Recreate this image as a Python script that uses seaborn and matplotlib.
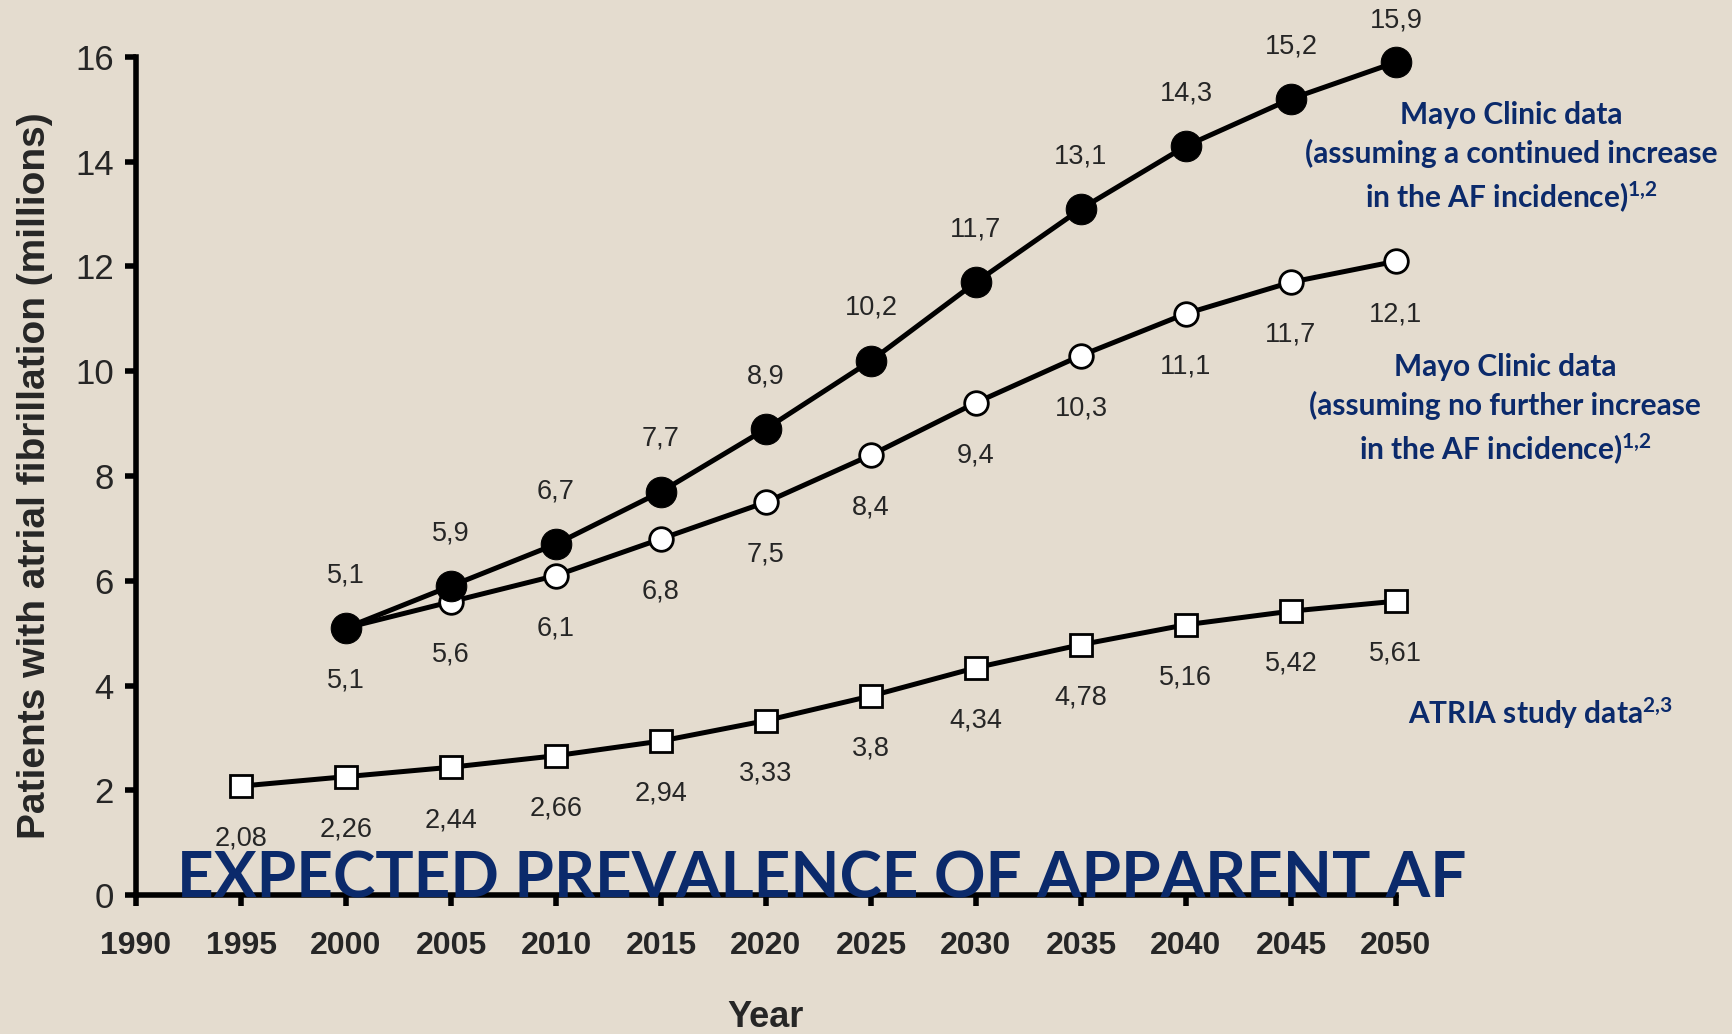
import matplotlib
matplotlib.use('Agg')
import matplotlib.pyplot as plt
import seaborn as sns

# data
years_atria = [1995, 2000, 2005, 2010, 2015, 2020, 2025, 2030, 2035, 2040, 2045, 2050]
atria = [2.08, 2.26, 2.44, 2.66, 2.94, 3.33, 3.8, 4.34, 4.78, 5.16, 5.42, 5.61]
atria_labels = ['2,08', '2,26', '2,44', '2,66', '2,94', '3,33', '3,8', '4,34', '4,78', '5,16', '5,42', '5,61']

years_mayo = [2000, 2005, 2010, 2015, 2020, 2025, 2030, 2035, 2040, 2045, 2050]
mayo_increase = [5.1, 5.9, 6.7, 7.7, 8.9, 10.2, 11.7, 13.1, 14.3, 15.2, 15.9]
mayo_flat = [5.1, 5.6, 6.1, 6.8, 7.5, 8.4, 9.4, 10.3, 11.1, 11.7, 12.1]

x_ticks = [1990, 1995, 2000, 2005, 2010, 2015, 2020, 2025, 2030, 2035, 2040, 2045, 2050]
y_ticks = [0, 2, 4, 6, 8, 10, 12, 14, 16]

BG = '#e4dccf'
NAVY = '#0b2a6b'

sns.set_style('ticks')
plt.rcParams['font.family'] = ['Liberation Sans', 'DejaVu Sans']
plt.rcParams['mathtext.fontset'] = 'custom'
plt.rcParams['mathtext.rm'] = 'Lato:bold'
plt.rcParams['mathtext.it'] = 'Lato:bold'
plt.rcParams['mathtext.bf'] = 'Lato:bold'

fig = plt.figure(figsize=(17.33, 10.34), dpi=100, facecolor=BG)
ax = fig.add_axes([0.0785, 0.1344, 0.727, 0.8105])
ax.set_facecolor(BG)

def fmt(v):
    return f'{v:g}'.replace('.', ',')

line_kw = dict(ax=ax, color='black', linewidth=3.6, clip_on=False)
# open circles (no further increase)
sns.lineplot(x=years_mayo, y=mayo_flat, marker='o', markersize=17,
             markerfacecolor='white', markeredgecolor='black',
             markeredgewidth=2, zorder=3, **line_kw)
# filled circles (continued increase)
sns.lineplot(x=years_mayo, y=mayo_increase, marker='o', markersize=22,
             markerfacecolor='black', markeredgecolor='black', zorder=4, **line_kw)
# ATRIA squares
sns.lineplot(x=years_atria, y=atria, marker='s', markersize=16,
             markerfacecolor='white', markeredgecolor='black',
             markeredgewidth=2, zorder=3, **line_kw)

lab_kw = dict(textcoords='offset points', ha='center', va='center', fontsize=19.5)
for x, v in zip(years_mayo, mayo_increase):
    off = 30 if x == 2050 else 38
    ax.annotate(fmt(v), (x, v), xytext=(0, off), **lab_kw)
for x, v in zip(years_mayo, mayo_flat):
    ax.annotate(fmt(v), (x, v), xytext=(0, -38), **lab_kw)
for x, v, lab in zip(years_atria, atria, atria_labels):
    ax.annotate(lab, (x, v), xytext=(0, -38), **lab_kw)

ax.set_xlim(1990, 2050)
ax.set_ylim(0, 16)
ax.set_xticks(x_ticks)
ax.set_yticks(y_ticks)
ax.set_xticklabels([str(t) for t in x_ticks], fontweight='bold', fontsize=23)
ax.set_yticklabels([str(t) for t in y_ticks], fontsize=25)
ax.tick_params(axis='both', direction='out', length=8, width=4, color='black')
ax.tick_params(axis='x', pad=18)
ax.tick_params(axis='y', pad=8)
sns.despine(ax=ax)
for s in ['left', 'bottom']:
    ax.spines[s].set_linewidth(4)
    ax.spines[s].set_color('black')
ax.grid(False)

ax.set_ylabel('Patients with atrial fibrillation (millions)', fontsize=28, fontweight='bold')
ax.yaxis.set_label_coords(-0.066, 0.5)
ax.set_xlabel('Year', fontsize=26, fontweight='bold')
ax.xaxis.set_label_coords(0.5, -0.125)

fig.text(177 / 1733, 1 - 897 / 1034, 'EXPECTED PREVALENCE OF APPARENT AF',
         family=['Lato', 'DejaVu Sans'], fontweight='bold', fontsize=46,
         color=NAVY, ha='left', va='baseline', zorder=10)

note_kw = dict(family=['Lato', 'DejaVu Sans'], fontweight='bold', fontsize=21.5,
               color=NAVY, ha='center', va='center', linespacing=1.4)
fig.text(1511 / 1733, 1 - 158 / 1034,
         'Mayo Clinic data\n(assuming a continued increase\nin the AF incidence)$^{1{,}2}$', **note_kw)
fig.text(1505 / 1733, 1 - 410 / 1034,
         'Mayo Clinic data\n(assuming no further increase\nin the AF incidence)$^{1{,}2}$', **note_kw)
fig.text(1540 / 1733, 1 - 713 / 1034, 'ATRIA study data$^{2{,}3}$', **note_kw)

fig.savefig('out.png', dpi=100, facecolor=BG)
